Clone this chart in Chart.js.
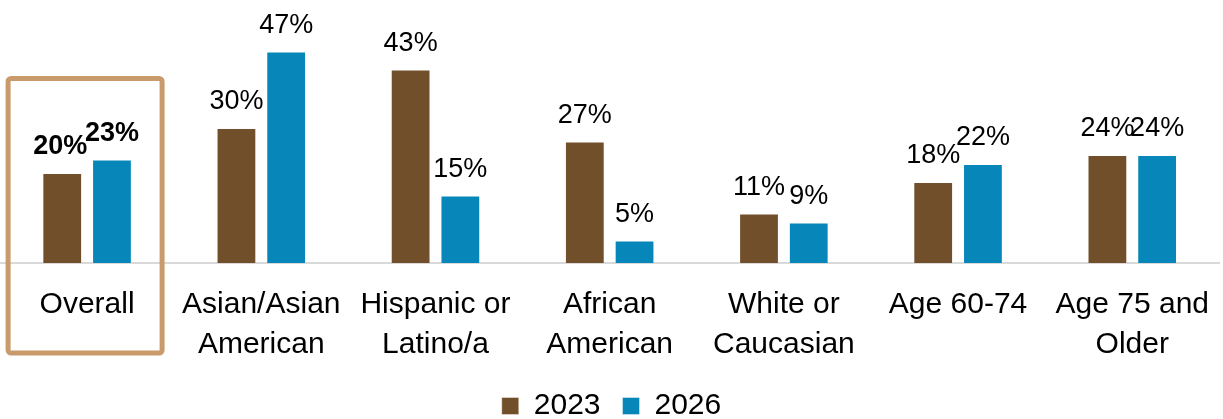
<!DOCTYPE html>
<html>
<head>
<meta charset="utf-8">
<script src="https://cdn.jsdelivr.net/npm/chart.js@4/dist/chart.umd.min.js"></script>
<style>
  html, body { margin: 0; padding: 0; background: #fff; }
  #wrap { position: relative; width: 1223px; height: 419px; }
</style>
</head>
<body>
<div id="wrap"><canvas id="myChart1"></canvas></div>
<script>
const categories = [
    ['Overall'],
    ['Asian/Asian', 'American'],
    ['Hispanic or', 'Latino/a'],
    ['African', 'American'],
    ['White or', 'Caucasian'],
    ['Age 60-74'],
    ['Age 75 and', 'Older']
];
const values_2023 = [20, 30, 43, 27, 11, 18, 24];
const values_2026 = [23, 47, 15, 5, 9, 22, 24];
const series_labels = ['2023', '2026'];

const brown = '#714F2A';
const blue = '#0787B9';
const font_family = '"Liberation Sans", Arial, sans-serif';

// percent labels above every bar, bold for the first group
const barLabels = {
    id: 'barLabels',
    afterDatasetsDraw(chart) {
        const ctx = chart.ctx;
        ctx.save();
        ctx.fillStyle = '#000';
        ctx.textAlign = 'center';
        ctx.textBaseline = 'alphabetic';
        chart.data.datasets.forEach((ds, i) => {
            chart.getDatasetMeta(i).data.forEach((bar, j) => {
                ctx.font = (j == 0 ? 'bold ' : '') + '27px ' + font_family;
                let dx = (j == 0 && i == 0) ? -2 : 0;
                ctx.fillText(ds.data[j] + '%', bar.x + dx, bar.y - 19);
            });
        });
        ctx.restore();
    }
};

// outline around the "Overall" group
const overallBox = {
    id: 'overallBox',
    afterDraw(chart) {
        const ctx = chart.ctx;
        const xs = chart.scales.x;
        const ys = chart.scales.y;
        const cx = xs.getPixelForValue(0) - 2;
        const top = ys.getPixelForValue(41);
        const bottom = ys.getPixelForValue(0) + 90;
        ctx.save();
        ctx.strokeStyle = '#C99A6B';
        ctx.lineWidth = 5;
        ctx.beginPath();
        ctx.roundRect(cx - 77, top, 154, bottom - top, 3);
        ctx.stroke();
        ctx.restore();
    }
};

var ctx = document.getElementById('myChart1').getContext('2d');
var group_chart = new Chart(ctx, {
    type: 'bar',
    data: {
        labels: categories,
        datasets: [{
            label: series_labels[0],
            data: values_2023,
            backgroundColor: brown,
            borderColor: 'rgba(255,255,255,0.4)',
            borderWidth: 1,
            categoryPercentage: 0.571,
            barPercentage: 0.8
        },
        {
            label: series_labels[1],
            data: values_2026,
            backgroundColor: blue,
            borderColor: 'rgba(255,255,255,0.4)',
            borderWidth: 1,
            categoryPercentage: 0.571,
            barPercentage: 0.8
        }]
    },
    options: {
        responsive: true,
        maintainAspectRatio: false,
        animation: false,
        layout: { padding: { top: 38, left: 0, right: 0, bottom: -12 } },
        scales: {
            x: {
                grid: { display: false },
                border: { display: true, color: '#D9D9D9', width: 2 },
                ticks: {
                    color: '#000',
                    padding: 14,
                    maxRotation: 0,
                    autoSkip: false,
                    font: { family: font_family, size: 30, lineHeight: 1.33 }
                },
                afterFit(axis) { axis.height = 106; }
            },
            y: {
                display: false,
                min: 0,
                max: 50
            }
        },
        plugins: {
            legend: {
                position: 'bottom',
                labels: {
                    color: '#000',
                    boxWidth: 17,
                    boxHeight: 17,
                    padding: 22,
                    font: { family: font_family, size: 30 }
                }
            },
            tooltip: { enabled: false }
        }
    },
    plugins: [barLabels, overallBox]
});
</script>
</body>
</html>
